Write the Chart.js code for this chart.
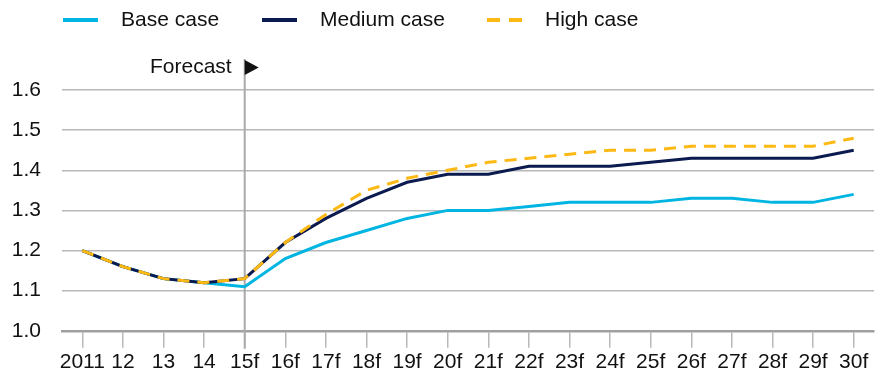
<!DOCTYPE html>
<html>
<head>
<meta charset="utf-8">
<script src="https://cdn.jsdelivr.net/npm/chart.js@4"></script>
<style>
  html, body { margin: 0; padding: 0; background: #fff; }
  #wrap { width: 876px; height: 377px; }
</style>
</head>
<body>
<div id="wrap"><canvas id="chart"></canvas></div>
<script>
const years = ["2011", "12", "13", "14", "15f", "16f", "17f", "18f", "19f", "20f",
    "21f", "22f", "23f", "24f", "25f", "26f", "27f", "28f", "29f", "30f"];
const baseCase = [1.20, 1.16, 1.13, 1.12, 1.11, 1.18, 1.22, 1.25, 1.28, 1.30,
    1.30, 1.31, 1.32, 1.32, 1.32, 1.33, 1.33, 1.32, 1.32, 1.34];
const mediumCase = [1.20, 1.16, 1.13, 1.12, 1.13, 1.22, 1.28, 1.33, 1.37, 1.39,
    1.39, 1.41, 1.41, 1.41, 1.42, 1.43, 1.43, 1.43, 1.43, 1.45];
const highCase = [1.20, 1.16, 1.13, 1.12, 1.13, 1.22, 1.29, 1.35, 1.38, 1.40,
    1.42, 1.43, 1.44, 1.45, 1.45, 1.46, 1.46, 1.46, 1.46, 1.48];
const forecastStart = "15f";
const yTicks = [1.0, 1.1, 1.2, 1.3, 1.4, 1.5, 1.6];

const FONT = "'Liberation Sans', Arial, Helvetica, sans-serif";
const GRID = "#b8b8b8";

// legend drawn by hand so the line/text spacing matches
const legendPlugin = {
    id: "topLegend",
    afterDraw(chart) {
        const ctx = chart.ctx;
        const items = [
            { x: 63, text: "Base case", ds: chart.data.datasets[0] },
            { x: 262, text: "Medium case", ds: chart.data.datasets[1] },
            { x: 487, text: "High case", ds: chart.data.datasets[2] },
        ];
        ctx.save();
        ctx.font = "21px " + FONT;
        ctx.textBaseline = "middle";
        items.forEach((it) => {
            ctx.strokeStyle = it.ds.borderColor;
            ctx.lineWidth = 4;
            ctx.setLineDash(it.ds.borderDash ? [13, 9] : []);
            ctx.beginPath();
            ctx.moveTo(it.x, 20);
            ctx.lineTo(it.x + 35, 20);
            ctx.stroke();
            ctx.setLineDash([]);
            ctx.fillStyle = "#111";
            ctx.fillText(it.text, it.x + 58, 20);
        });
        ctx.restore();
    },
};

// vertical "Forecast" marker
const forecastPlugin = {
    id: "forecast",
    beforeDatasetsDraw(chart) {
        const ctx = chart.ctx;
        const x = chart.scales.x.getPixelForValue(years.indexOf(forecastStart));
        ctx.save();
        ctx.strokeStyle = "#aaaaaa";
        ctx.lineWidth = 2;
        ctx.beginPath();
        ctx.moveTo(x, 59);
        ctx.lineTo(x, chart.chartArea.bottom + 18);
        ctx.stroke();
        ctx.restore();
    },
    afterDraw(chart) {
        const ctx = chart.ctx;
        const x = chart.scales.x.getPixelForValue(years.indexOf(forecastStart));
        ctx.save();
        ctx.font = "21px " + FONT;
        ctx.fillStyle = "#111";
        ctx.textAlign = "right";
        ctx.textBaseline = "middle";
        ctx.fillText("Forecast", x - 13, 67);
        ctx.beginPath();
        ctx.moveTo(x, 60);
        ctx.lineTo(x + 14, 67.5);
        ctx.lineTo(x, 75);
        ctx.closePath();
        ctx.fill();
        ctx.restore();
    },
};

new Chart(document.getElementById("chart"), {
    type: "line",
    data: {
        labels: years,
        datasets: [
            {
                label: "Base case",
                data: baseCase,
                borderColor: "#00b5e2",
                borderWidth: 3,
                order: 3,
            },
            {
                label: "Medium case",
                data: mediumCase,
                borderColor: "#0b1a4f",
                borderWidth: 3,
                order: 2,
            },
            {
                label: "High case",
                data: highCase,
                borderColor: "#fdb913",
                borderWidth: 3,
                borderDash: [12, 8],
                order: 1,
            },
        ],
    },
    options: {
        responsive: true,
        maintainAspectRatio: false,
        animation: false,
        elements: {
            point: { radius: 0 },
            line: { tension: 0 },
        },
        layout: { padding: { top: 90, right: 2, left: 0, bottom: 0 } },
        plugins: {
            legend: { display: false },
            tooltip: { enabled: false },
        },
        scales: {
            x: {
                offset: true,
                grid: {
                    offset: false,
                    drawOnChartArea: false,
                    color: GRID,
                    lineWidth: 1.5,
                    tickLength: 17,
                },
                border: { color: "#a0a0a0", width: 2.5 },
                ticks: {
                    color: "#111",
                    font: { family: FONT, size: 21 },
                    padding: 2,
                    maxRotation: 0,
                    autoSkip: false,
                },
            },
            y: {
                min: yTicks[0],
                max: yTicks[yTicks.length - 1],
                afterBuildTicks: (s) => {
                    s.ticks = yTicks.map((v) => ({ value: v }));
                },
                afterFit: (s) => {
                    s.width = 62;
                },
                grid: {
                    color: GRID,
                    lineWidth: 1.5,
                    drawTicks: false,
                },
                border: { display: false },
                ticks: {
                    color: "#111",
                    font: { family: FONT, size: 21 },
                    padding: 21,
                    callback: (v) => Number(v).toFixed(1),
                },
            },
        },
    },
    plugins: [forecastPlugin, legendPlugin],
});
</script>
</body>
</html>
